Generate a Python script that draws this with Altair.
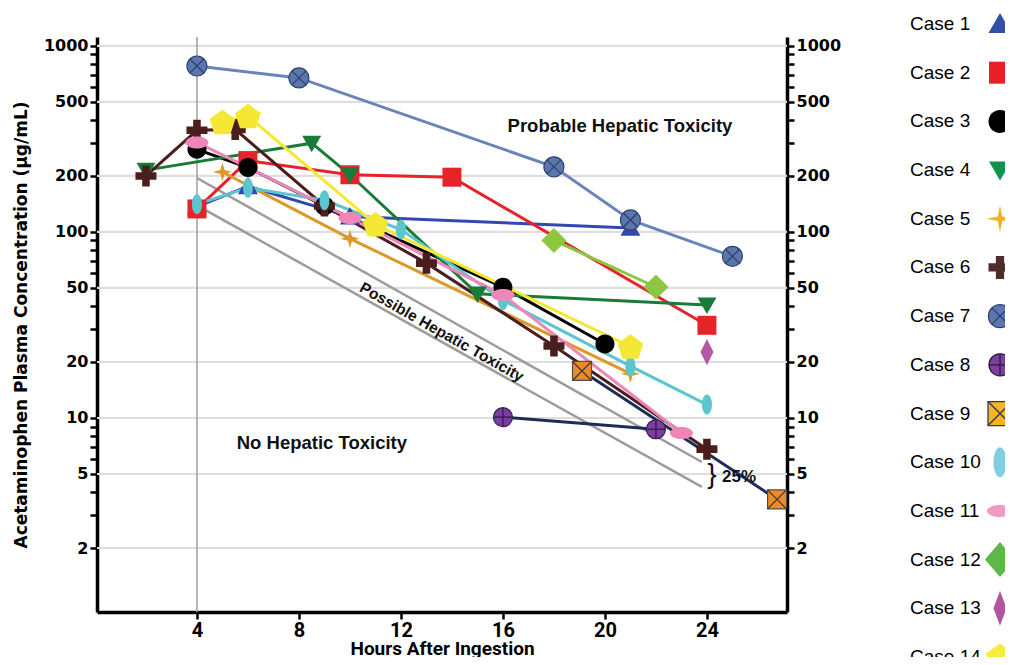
import altair as alt
import pandas as pd
import math

# ---------------- data ----------------
cases = [f"Case {i}" for i in range(1, 15)]

hours_1 = [4, 6, 10, 21]
conc_1 = [137, 176, 121, 105]
hours_2 = [4, 6, 10, 14, 24]
conc_2 = [133, 242, 203, 197, 31.5]
hours_3 = [4, 6, 9, 16, 20]
conc_3 = [278, 222, 138, 50.5, 25]
hours_4 = [2, 8.5, 10, 15, 24]
conc_4 = [215, 300, 203, 46.5, 40.5]
hours_5 = [5, 10, 21]
conc_5 = [210, 92, 17.3]
hours_6 = [2, 4, 5.5, 9, 13, 18, 24]
conc_6 = [200, 352, 356, 138, 68, 24.4, 6.8]
hours_7 = [4, 8, 18, 21, 25]
conc_7 = [780, 673, 224, 116, 74]
hours_8 = [16, 22]
conc_8 = [10.1, 8.7]
hours_9 = [19.1, 26.75]
conc_9 = [17.9, 3.65]
hours_10 = [4, 6, 9, 12, 16, 21, 24]
conc_10 = [141, 173, 148, 103, 43, 19, 11.8]
hours_11 = [4, 10, 16, 23]
conc_11 = [303, 119, 45.9, 8.3]
hours_12 = [18, 22]
conc_12 = [90, 50.6]
hours_13 = [24]
conc_13 = [22.6]
hours_14 = [5, 6, 11, 21]
conc_14 = [390, 420, 110, 24.2]

# nomogram guide lines (upper "possible" line and 25% lower line)
guide_upper_hours = [4, 23.8]
guide_upper_conc = [195, 5.8]
guide_lower_hours = [4, 23.8]
guide_lower_conc = [139, 4.26]

y_tick_values = [2, 3, 4, 5, 6, 7, 8, 9, 10, 20, 30, 40, 50, 60, 70, 80, 90,
                 100, 200, 300, 400, 500, 600, 700, 800, 900, 1000]
y_label_values = [2, 5, 10, 20, 50, 100, 200, 500, 1000]
x_tick_values = [4, 8, 12, 16, 20, 24]

# ---------------- tables ----------------
series = [(hours_1, conc_1), (hours_2, conc_2), (hours_3, conc_3), (hours_4, conc_4),
          (hours_5, conc_5), (hours_6, conc_6), (hours_7, conc_7), (hours_8, conc_8),
          (hours_9, conc_9), (hours_10, conc_10), (hours_11, conc_11), (hours_12, conc_12),
          (hours_13, conc_13), (hours_14, conc_14)]
rows = []
for i, (hs, cs) in enumerate(series):
    for j, (h, c) in enumerate(zip(hs, cs)):
        rows.append({"case": cases[i], "seq": j, "hours": h, "conc": c})
df = pd.DataFrame(rows)

gdf = pd.DataFrame(
    [{"line": "upper", "seq": k, "hours": h, "conc": c}
     for k, (h, c) in enumerate(zip(guide_upper_hours, guide_upper_conc))]
    + [{"line": "lower", "seq": k, "hours": h, "conc": c}
       for k, (h, c) in enumerate(zip(guide_lower_hours, guide_lower_conc))]
)
grid_df = pd.DataFrame({"g": y_label_values})
leg_df = pd.DataFrame({"case": cases, "row": list(range(1, 15))})

# ---------------- marker paths (size fixed at 900 -> 1 unit = 15 px) ----------------
U = 15.0


def f(v):
    return f"{v:.3f}"


def p_circle(d):
    r = d / 2 / U
    return f"M{f(r)},0A{f(r)},{f(r)} 0 1,1 {f(-r)},0A{f(r)},{f(r)} 0 1,1 {f(r)},0Z"


def p_ellipse(w, h):
    rx, ry = w / 2 / U, h / 2 / U
    return f"M{f(rx)},0A{f(rx)},{f(ry)} 0 1,1 {f(-rx)},0A{f(rx)},{f(ry)} 0 1,1 {f(rx)},0Z"


def p_square(s):
    a = s / 2 / U
    return f"M{f(-a)},{f(-a)}L{f(a)},{f(-a)}L{f(a)},{f(a)}L{f(-a)},{f(a)}Z"


def p_tri(w, up=True):
    a = w / 2 / U
    h = w * 0.87 / U
    top, bot = -h * 0.55, h * 0.45
    if not up:
        top, bot = -top, -bot
    return f"M0,{f(top)}L{f(a)},{f(bot)}L{f(-a)},{f(bot)}Z"


def p_star4(w, t=0.2):
    a = w / 2 / U
    b = a * t
    return (f"M0,{f(-a)}L{f(b)},{f(-b)}L{f(a)},0L{f(b)},{f(b)}L0,{f(a)}"
            f"L{f(-b)},{f(b)}L{f(-a)},0L{f(-b)},{f(-b)}Z")


def p_cross(w, t=0.36):
    a = w / 2 / U
    b = a * t
    pts = [(-b, -a), (b, -a), (b, -b), (a, -b), (a, b), (b, b), (b, a), (-b, a),
           (-b, b), (-a, b), (-a, -b), (-b, -b)]
    return "M" + "L".join(f"{f(x)},{f(y)}" for x, y in pts) + "Z"


def p_diamond(w, h):
    a, c = w / 2 / U, h / 2 / U
    return f"M0,{f(-c)}L{f(a)},0L0,{f(c)}L{f(-a)},0Z"


def p_pent(d):
    r = d / 2 / U
    shift = r * 0.095
    pts = []
    for k in range(5):
        ang = math.radians(-90 + 72 * k)
        pts.append((r * math.cos(ang), r * math.sin(ang) + shift))
    return "M" + "L".join(f"{f(x)},{f(y)}" for x, y in pts) + "Z"


def p_xmark(half):
    a = half / U
    return f"M{f(-a)},{f(-a)}L{f(a)},{f(a)}M{f(-a)},{f(a)}L{f(a)},{f(-a)}"


def p_plusmark(half):
    a = half / U
    return f"M0,{f(-a)}L0,{f(a)}M{f(-a)},0L{f(a)},0"


chart_paths = [p_tri(20), p_square(19), p_circle(19), p_tri(19, up=False), p_star4(19, 0.22),
               p_cross(21), p_circle(20), p_circle(19), p_square(19), p_ellipse(10, 20),
               p_ellipse(23, 12), p_diamond(25, 25), p_diamond(13, 26), p_pent(27)]
legend_paths = [p_tri(23), p_square(22), p_circle(23), p_tri(22, up=False), p_star4(27, 0.16),
                p_cross(23), p_circle(23), p_circle(22), p_square(24), p_ellipse(13, 30),
                p_ellipse(26, 12), p_diamond(30, 35), p_diamond(13, 35), p_pent(30)]

line_colors = ['#3447B0', '#E5242A', '#000000', '#1A7A38', '#D99A2A', '#4B1E1E', '#6A83B9',
               '#1C2B58', '#1C2B58', '#5CC6CF', '#EE86B8', '#8DC63F', '#B05AA6', '#F5E835']
fill_colors = ['#3447B0', '#E5242A', '#000000', '#1A7A38', '#D99A2A', '#4B1E1E', '#5B76AD',
               '#7B3EA0', '#F0892A', '#5CC6CF', '#EE86B8', '#8DC63F', '#B05AA6', '#F5E835']
edge_colors = ['transparent'] * 6 + ['#2E4470', '#38204F', '#4D4D4D'] + ['transparent'] * 5
legend_fills = ['#3050A8', '#E8202A', '#000000', '#11924A', '#F4B223', '#4D2C2A', '#5D77AE',
                '#7B3F9E', '#F9B51C', '#7FCFE0', '#EE9AC5', '#5DB947', '#B2559F', '#F9EB3A']
legend_edges = ['transparent'] * 6 + ['#2E4470', '#2D1745', '#2B3A6A'] + ['transparent'] * 5
over_cases = ['Case 7', 'Case 8', 'Case 9']
over_colors = ['#2B3F6E', '#2D1745', '#3A3A3A']
leg_over_colors = ['#2B3F6E', '#2D1745', '#2B3A6A']

# ---------------- scales / axes ----------------
xs = alt.Scale(domain=[0.08, 27.14], nice=False, zero=False)
ys = alt.Scale(type='log', domain=[0.906, 1117], nice=False)

label_expr = ("indexof([" + ",".join(str(v) for v in y_label_values) +
              "], datum.value) >= 0 ? format(datum.value, 'd') : ''")
common_y = dict(values=y_tick_values, labelExpr=label_expr, tickSize=7, tickWidth=2.5,
                tickColor='black', domainColor='black', domainWidth=3.5,
                labelFont='DejaVu Sans', labelFontSize=16, labelFontWeight='bold',
                labelColor='black', labelPadding=2, grid=False, labelOverlap=False,
                labelFlush=False, labelBound=False)
y_left = alt.Axis(orient='left', title='Acetaminophen Plasma Concentration (µg/mL)',
                  titleFont='DejaVu Sans', titleFontSize=17, titleFontWeight='bold',
                  titleColor='black', titlePadding=13, **common_y)
y_right = alt.Axis(orient='right', title=None, **common_y)
x_axis = alt.Axis(orient='bottom', values=x_tick_values, format='d', tickSize=7, tickWidth=2.5,
                  tickColor='black', domainColor='black', domainWidth=3.5,
                  labelFont='Roboto', labelFontSize=20,
                  labelFontWeight='bold', labelColor='black', labelPadding=1, grid=False,
                  labelFlush=False, title='Hours After Ingestion',
                  titleFont='Roboto', titleFontSize=19,
                  titleFontWeight='bold', titleColor='black', titlePadding=-1)


def X(ax=None):
    return alt.X('hours:Q', scale=xs, axis=ax)


def Y(ax=None):
    return alt.Y('conc:Q', scale=ys, axis=ax)


# ---------------- main layers ----------------
grid = alt.Chart(grid_df).mark_rule(color='#DEDEDE', strokeWidth=2.2).encode(
    y=alt.Y('g:Q', scale=ys, axis=None))

vline = alt.Chart(grid_df.head(1)).mark_rule(color='#A5A5A5', strokeWidth=1.6).encode(
    x=alt.XDatum(4, type='quantitative', scale=xs, axis=None))

guides = alt.Chart(gdf).mark_line(color='#9C9C9C', strokeWidth=2.5).encode(
    x=X(), y=Y(), detail='line:N', order='seq:Q')

lines = alt.Chart(df).mark_line(strokeWidth=3).encode(
    x=X(x_axis), y=Y(y_left),
    color=alt.Color('case:N', scale=alt.Scale(domain=cases, range=line_colors), legend=None),
    order='seq:Q')

points = alt.Chart(df).mark_point(filled=True, opacity=1, strokeWidth=1.2, size=900).encode(
    x=X(), y=Y(y_right),
    shape=alt.Shape('case:N', scale=alt.Scale(domain=cases, range=chart_paths), legend=None),
    fill=alt.Fill('case:N', scale=alt.Scale(domain=cases, range=fill_colors), legend=None),
    stroke=alt.Stroke('case:N', scale=alt.Scale(domain=cases, range=edge_colors), legend=None))

overlays = alt.Chart(df).transform_filter(
    alt.FieldOneOfPredicate(field='case', oneOf=over_cases)
).mark_point(filled=False, opacity=1, strokeWidth=1.2, size=900).encode(
    x=X(), y=Y(),
    shape=alt.Shape('case:N', scale=alt.Scale(domain=over_cases,
                    range=[p_xmark(7), p_plusmark(9.5), p_xmark(9.5)]), legend=None),
    stroke=alt.Stroke('case:N', scale=alt.Scale(domain=over_cases, range=over_colors), legend=None))


def label(text, h, c, size, angle=0, align='center', weight='bold', font='Liberation Sans'):
    return alt.Chart(grid_df.head(1)).mark_text(
        text=text, fontSize=size, fontWeight=weight, font=font, color='#111111',
        align=align, baseline='middle', angle=angle
    ).encode(x=alt.XDatum(h, type='quantitative', scale=xs, axis=None),
             y=alt.YDatum(c, type='quantitative', scale=ys, axis=None))


t_prob = label('Probable Hepatic Toxicity', 20.59, 372, 18.5)
t_no = label('No Hepatic Toxicity', 8.9, 7.35, 18.5)
t_poss = label('Possible Hepatic Toxicity', 13.6, 28.9, 15.5, angle=29.5)
t_brace = label('}', 24.2, 4.94, 28, weight='normal')
t_pct = label('25%', 24.59, 4.82, 17, align='left')

# ---------------- legend ----------------
leg_x = alt.Scale(domain=[0, 1], range=[813, 903])
leg_y = alt.Scale(domain=[1, 14], range=[-13, 620])

leg_text = alt.Chart(leg_df).mark_text(align='left', baseline='middle', font='Liberation Sans',
                                       fontSize=19, color='black').encode(
    x=alt.XDatum(0, type='quantitative', scale=leg_x, axis=None),
    y=alt.Y('row:Q', scale=leg_y, axis=None), text='case:N')

leg_pts = alt.Chart(leg_df).mark_point(filled=True, opacity=1, strokeWidth=1.3, size=900).encode(
    x=alt.XDatum(1, type='quantitative', scale=leg_x, axis=None),
    y=alt.Y('row:Q', scale=leg_y, axis=None),
    shape=alt.Shape('case:N', scale=alt.Scale(domain=cases, range=legend_paths), legend=None),
    fill=alt.Fill('case:N', scale=alt.Scale(domain=cases, range=legend_fills), legend=None),
    stroke=alt.Stroke('case:N', scale=alt.Scale(domain=cases, range=legend_edges), legend=None))

leg_over = alt.Chart(leg_df).transform_filter(
    alt.FieldOneOfPredicate(field='case', oneOf=over_cases)
).mark_point(filled=False, opacity=1, strokeWidth=1.3, size=900).encode(
    x=alt.XDatum(1, type='quantitative', scale=leg_x, axis=None),
    y=alt.Y('row:Q', scale=leg_y, axis=None),
    shape=alt.Shape('case:N', scale=alt.Scale(domain=over_cases,
                    range=[p_xmark(8), p_plusmark(11), p_xmark(12)]), legend=None),
    stroke=alt.Stroke('case:N', scale=alt.Scale(domain=over_cases, range=leg_over_colors),
                      legend=None))

chart = alt.layer(
    grid, vline, guides, lines, points, overlays,
    t_prob, t_no, t_poss, t_brace, t_pct,
    leg_text, leg_pts, leg_over
).resolve_scale(
    x='independent', y='independent', shape='independent', fill='independent',
    stroke='independent', color='independent'
).properties(
    width=690, height=575,
    autosize=alt.AutoSizeParams(type='none'),
    padding={'left': 89, 'top': 29, 'right': 218, 'bottom': 45}
).configure_view(strokeWidth=0)

chart.save("out.html", embed_options={"renderer": "svg", "actions": False})
